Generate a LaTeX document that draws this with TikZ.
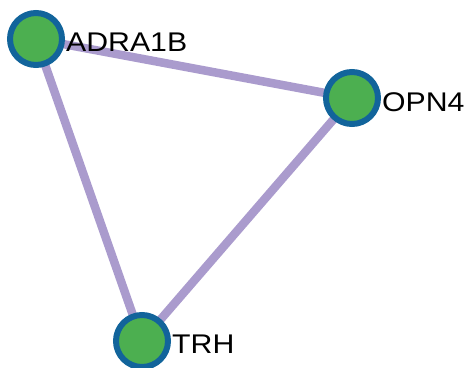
\documentclass[tikz,border=0pt]{standalone}
\usepackage{fontspec}
\newfontfamily\labfont[FakeStretch=1.12]{Liberation Sans}
\begin{document}
\begin{tikzpicture}[x=1pt,y=-1pt,
  gene/.style={circle,draw={rgb,255:red,18;green,100;blue,155},line width=6pt,
    fill={rgb,255:red,76;green,175;blue,80},minimum size=52pt,inner sep=0pt},
  link/.style={draw={rgb,255:red,170;green,155;blue,205},line width=8.5pt},
  genelabel/.style={anchor=base west,inner sep=0pt,font=\labfont\fontsize{27}{32}\selectfont}]
\useasboundingbox (0,0) rectangle (466,367);
% interaction edges
\coordinate (a) at (36,39);
\coordinate (o) at (352,98);
\coordinate (t) at (142,341);
\draw[link] (a) -- (o);
\draw[link] (a) -- (t);
\draw[link] (o) -- (t);
% gene nodes
\node[gene] (adra) at (a) {};
\node[gene] (opn) at (o) {};
\node[gene] (trh) at (t) {};
% labels
\node[genelabel] (adral) at (66,51) {ADRA1B};
\node[genelabel] (opnl) at (382,111) {OPN4};
\node[genelabel] (trhl) at (172,353) {TRH};
\end{tikzpicture}
\end{document}
